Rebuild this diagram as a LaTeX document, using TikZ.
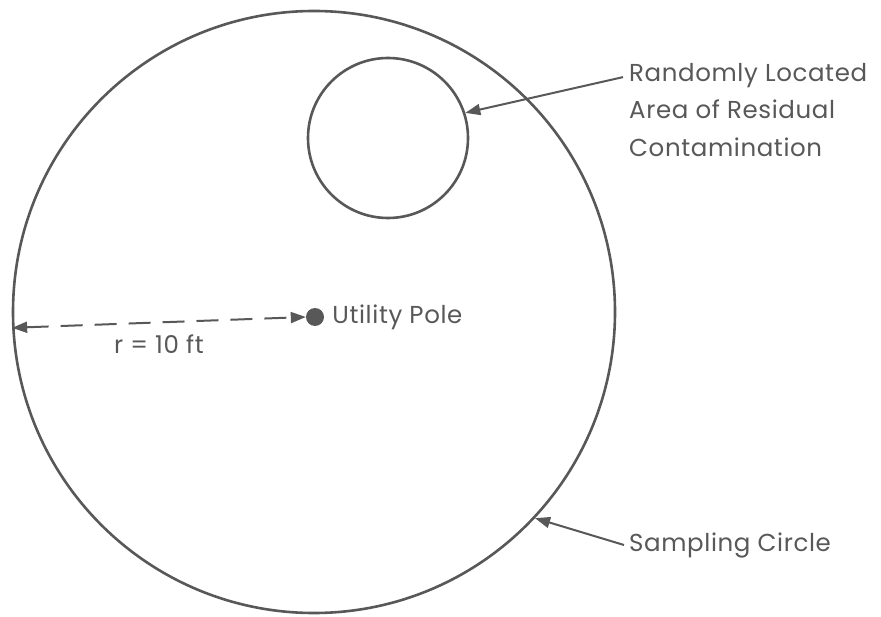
\documentclass[tikz,border=0pt]{standalone}
\usepackage{fontspec}
\setmainfont[LetterSpace=2.5]{Poppins}
\usetikzlibrary{arrows.meta, positioning}
\definecolor{InkGray}{RGB}{88,88,88}

\begin{document}
\begin{tikzpicture}[
  x=1pt, y=-1pt,
  every node/.style={font=\fontsize{24.5}{37.5}\selectfont, text=InkGray},
  ring/.style={draw=InkGray, line width=2.6pt, circle, inner sep=0pt},
  lbl/.style={align=left, anchor=west, inner sep=0pt},
  arr/.style={-{Triangle[length=15pt, width=11pt]}, line width=2pt, draw=InkGray}
]
  \useasboundingbox (0,0) rectangle (881,617);

  %% Circles
  \node[ring, minimum size=602pt] (sampling) at (314,312) {};
  \node[ring, minimum size=160pt] (residual) at (388,138) {};
  \node[circle, fill=InkGray, minimum size=18pt, inner sep=0pt] (pole) at (315,317) {};

  %% Labels
  \node[lbl, right=8pt of pole] (polelbl) {Utility Pole};
  \node[lbl] (residlbl) at (629,110) {Randomly Located\\Area of Residual\\Contamination};
  \node[lbl] (samplbl) at (629,545) {Sampling Circle};

  %% Radius
  \draw[arr, {Triangle[length=15pt, width=11pt]}-{Triangle[length=15pt, width=11pt]},
        dash pattern=on 22pt off 12pt]
    (sampling.183) -- (pole.west)
    node[midway, below=11pt, inner sep=0pt] (rlbl) {r = 10 ft};

  %% Pointers
  \draw[arr] ([shift={(-6,14)}]residlbl.north west) -- (residual.18);
  \draw[arr] ([xshift=-5pt]samplbl.west) -- (sampling.-43);
\end{tikzpicture}
\end{document}
